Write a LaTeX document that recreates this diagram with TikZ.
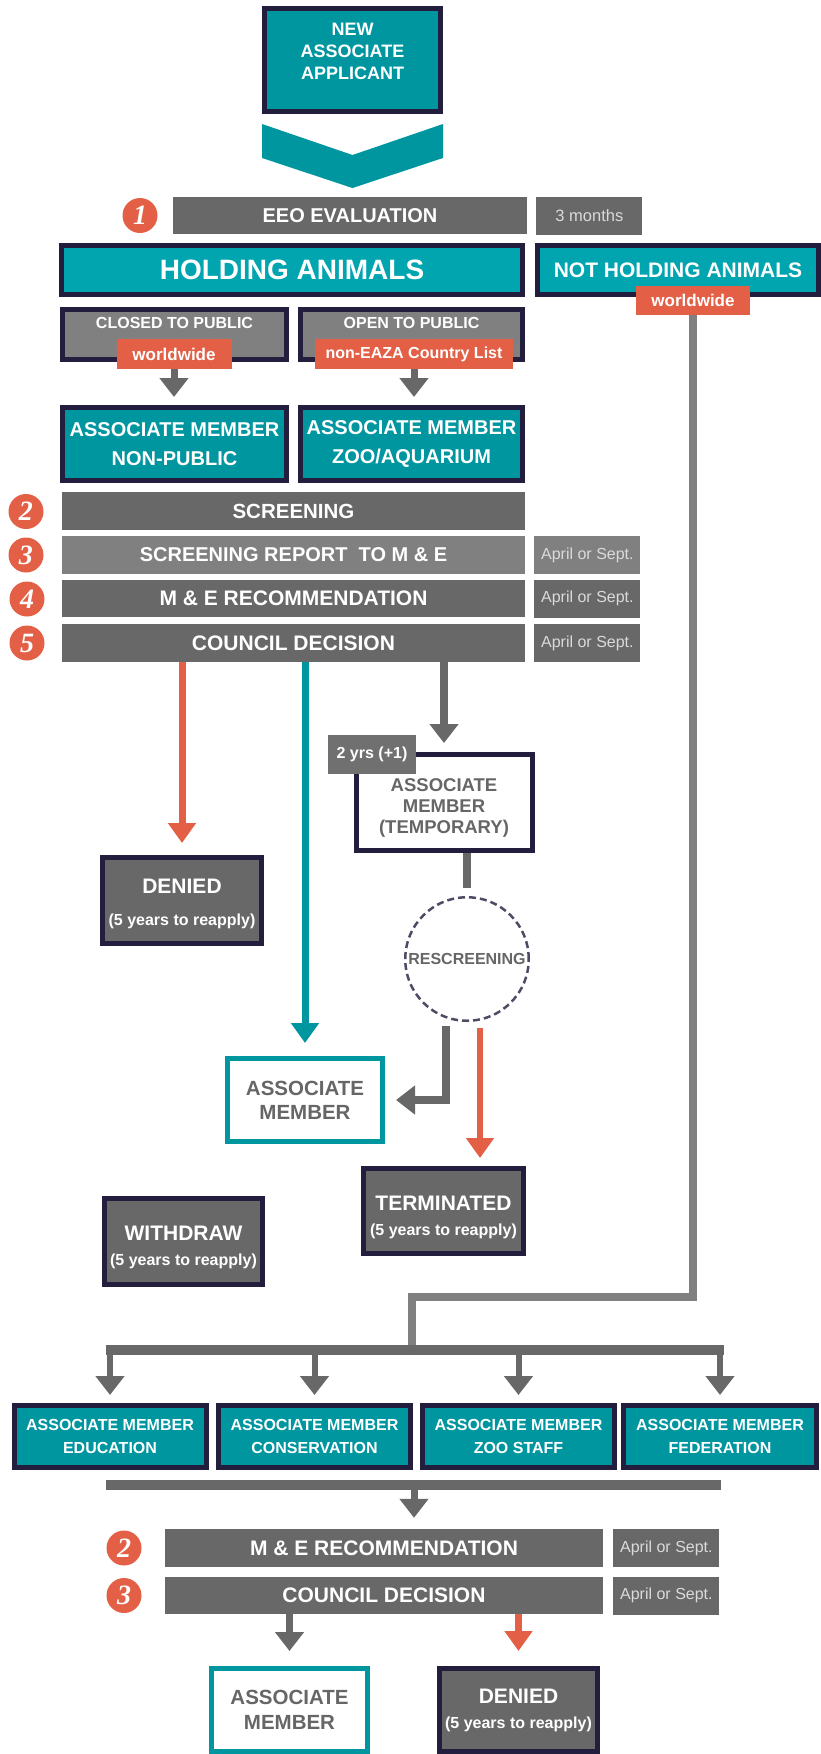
\documentclass[tikz,border=0pt]{standalone}
\usepackage{fontspec}
\setmainfont{Liberation Sans}
\newfontfamily\numfont{Liberation Serif}
\usetikzlibrary{arrows.meta,positioning}
\definecolor{tealA}{HTML}{0096A0}
\definecolor{tealB}{HTML}{00A5AF}
\definecolor{navy}{HTML}{231E3E}
\definecolor{dgray}{HTML}{686868}
\definecolor{mgray}{HTML}{808080}
\definecolor{orangeR}{HTML}{E35F45}
\definecolor{softtext}{HTML}{DADADA}
\definecolor{greytext}{HTML}{666666}

\begin{document}
\begin{tikzpicture}[x=1pt,y=-1pt]
        \tikzstyle{tealbox}=[draw=navy, line width=5pt, fill=tealA, text=white, inner sep=0pt, align=center]
        \tikzstyle{graybox}=[fill=dgray, text=white, inner sep=0pt, align=center, font=\bfseries\fontsize{21}{25}\selectfont]
        \tikzstyle{lgraybox}=[draw=navy, line width=5pt, fill=mgray, inner sep=0pt]
        \tikzstyle{darkbox}=[draw=navy, line width=5pt, fill=dgray, text=white, inner sep=0pt, align=center]
        \tikzstyle{whitebox}=[line width=5pt, fill=white, text=greytext, inner sep=0pt, align=center]
        \tikzstyle{tagbox}=[fill=orangeR, text=white, inner sep=0pt, font=\bfseries\fontsize{17}{17}\selectfont]
        \tikzstyle{datebox}=[fill=dgray, text=softtext, inner sep=0pt, minimum width=106pt, minimum height=38pt, font=\fontsize{16}{16}\selectfont]
        \tikzstyle{num}=[circle, fill=orangeR, minimum size=35pt, inner sep=0pt, text=white, font=\numfont\bfseries\itshape\fontsize{28}{28}\selectfont]
        \tikzstyle{ring}=[circle, draw=navy!80, line width=2.5pt, dash pattern=on 7pt off 4pt, fill=white, inner sep=0pt, text=greytext, font=\bfseries\fontsize{16}{16}\selectfont]
        \tikzstyle{lbl}=[text=white, align=center, inner sep=0pt]
        \tikzstyle{garrow}=[draw=dgray, line width=7pt, -{Triangle[width=28pt,length=19pt]}]
        \tikzstyle{oarrow}=[draw=orangeR, line width=7pt, -{Triangle[width=27pt,length=20pt]}]
        \tikzstyle{tarrow}=[draw=tealA, line width=7pt, -{Triangle[width=27pt,length=20pt]}]
        \tikzstyle{stub}=[draw=dgray, line width=8pt]
        \tikzstyle{feed}=[draw=mgray, line width=8pt]
        \tikzstyle{rail}=[draw=dgray, line width=10pt]
        \useasboundingbox (0,0) rectangle (821,1754);

        \node[tealbox, minimum width=176pt, minimum height=103pt,
              label={[lbl, font=\bfseries\fontsize{18}{22}\selectfont, yshift=9pt]center:NEW\\ASSOCIATE\\APPLICANT}] (new) at (352.5,60) {};
        \fill[tealA] (262,124) -- (352.5,155) -- (443,124) -- (443,158) -- (352.5,188) -- (262,158) -- cycle;

        \node[num] (n1) at (140,215.5) {1};
        \node[graybox, minimum width=354pt, minimum height=37pt, font=\bfseries\fontsize{20}{20}\selectfont] (eeo) at (350,215.5) {EEO EVALUATION};
        \node[datebox, right=9pt of eeo, font=\fontsize{16.5}{16.5}\selectfont] (months) {3 months};

        \node[tealbox, fill=tealB, minimum width=461pt, minimum height=49pt, font=\bfseries\fontsize{28}{28}\selectfont] (holding) at (292,270) {HOLDING ANIMALS};
        \node[tealbox, fill=tealB, minimum width=281pt, minimum height=49pt, font=\bfseries\fontsize{21}{21}\selectfont] (notholding) at (678,270) {NOT HOLDING ANIMALS};
        \node[tagbox, minimum width=114pt, minimum height=29pt] (ww) at (693,300.5) {worldwide};

        \node[lgraybox, minimum width=224pt, minimum height=50pt,
              label={[lbl, font=\bfseries\fontsize{16}{16}\selectfont, yshift=11.5pt]center:CLOSED TO PUBLIC}] (closed) at (174.5,334.5) {};
        \node[tagbox, minimum width=115pt, minimum height=30pt] (closedtag) at (174,354) {worldwide};
        \node[lgraybox, minimum width=222pt, minimum height=50pt,
              label={[lbl, font=\bfseries\fontsize{16}{16}\selectfont, yshift=11.5pt]center:OPEN TO PUBLIC}] (open) at (411.5,334.5) {};
        \node[tagbox, minimum width=198pt, minimum height=30pt, font=\bfseries\fontsize{16}{16}\selectfont] (opentag) at (414,354) {non-EAZA Country List};

        \node[tealbox, minimum width=224pt, minimum height=73pt, font=\bfseries\fontsize{20}{29}\selectfont] (nonpublic) at (174.5,444) {ASSOCIATE MEMBER\\NON-PUBLIC};
        \node[tealbox, minimum width=222pt, minimum height=73pt, font=\bfseries\fontsize{20}{29}\selectfont] (zooaq) at (411.5,444) {ASSOCIATE MEMBER\\ZOO/AQUARIUM};

        \node[num] (n2) at (26,511.5) {2};
        \node[graybox, minimum width=463pt, minimum height=38pt, font=\bfseries\fontsize{20.5}{20.5}\selectfont] (screening) at (293.5,511) {SCREENING};
        \node[num] (n3) at (26,555) {3};
        \node[graybox, fill=mgray, minimum width=463pt, minimum height=38pt, font=\bfseries\fontsize{20}{20}\selectfont] (report) at (293.5,555) {SCREENING REPORT\ \ TO M \& E};
        \node[datebox, fill=mgray, right=9pt of report] (date1) {April or Sept.};
        \node[num] (n4) at (27,599) {4};
        \node[graybox, minimum width=463pt, minimum height=37pt] (mer) at (293.5,598.5) {M \& E RECOMMENDATION};
        \node[datebox, right=9pt of mer] (date2) {April or Sept.};
        \node[num] (n5) at (27,643) {5};
        \node[graybox, minimum width=463pt, minimum height=38pt] (council) at (293.5,643) {COUNCIL DECISION};
        \node[datebox, right=9pt of council] (date3) {April or Sept.};

        \node[darkbox, minimum width=159pt, minimum height=86pt,
              label={[lbl, font=\bfseries\fontsize{16}{32}\selectfont, yshift=-3pt]center:{{\fontsize{21}{21}\selectfont DENIED}\\(5 years to reapply)}}] (denied) at (182,900.5) {};
        \node[whitebox, draw=navy, minimum width=176pt, minimum height=96pt,
              label={[lbl, text=greytext, font=\bfseries\fontsize{18.5}{21}\selectfont, yshift=-5pt]center:ASSOCIATE\\MEMBER\\(TEMPORARY)}] (temp) at (444,802.5) {};
        \node[graybox, fill=dgray!95!white, minimum width=88pt, minimum height=39pt, font=\bfseries\fontsize{16}{16}\selectfont] (twoyrs) at (372,754.5) {2 yrs (+1)};
        \node[ring, minimum size=123.5pt] (rescreen) at (467,959) {RESCREENING};
        \node[whitebox, draw=tealA, minimum width=155pt, minimum height=83pt, font=\bfseries\fontsize{20.5}{24}\selectfont] (assoc) at (305,1100) {ASSOCIATE\\MEMBER};
        \node[darkbox, minimum width=160pt, minimum height=85pt,
              label={[lbl, font=\bfseries\fontsize{16}{25}\selectfont, yshift=-6pt]center:{{\fontsize{21}{21}\selectfont TERMINATED}\\(5 years to reapply)}}] (term) at (443.5,1211) {};
        \node[darkbox, minimum width=158pt, minimum height=86pt,
              label={[lbl, font=\bfseries\fontsize{16}{25}\selectfont, yshift=-5.5pt]center:{{\fontsize{21}{21}\selectfont WITHDRAW}\\(5 years to reapply)}}] (withdraw) at (183.5,1241.5) {};

        \node[tealbox, minimum width=192pt, minimum height=62pt, font=\bfseries\fontsize{16}{23}\selectfont] (edu) at (110,1436.5) {ASSOCIATE MEMBER\\EDUCATION};
        \node[tealbox, minimum width=192pt, minimum height=62pt, font=\bfseries\fontsize{16}{23}\selectfont] (cons) at (314.5,1436.5) {ASSOCIATE MEMBER\\CONSERVATION};
        \node[tealbox, minimum width=192pt, minimum height=62pt, font=\bfseries\fontsize{16}{23}\selectfont] (zoo) at (518.5,1436.5) {ASSOCIATE MEMBER\\ZOO STAFF};
        \node[tealbox, minimum width=193pt, minimum height=62pt, font=\bfseries\fontsize{16}{23}\selectfont] (fed) at (720,1436.5) {ASSOCIATE MEMBER\\FEDERATION};

        \node[num] (m2) at (124,1548) {2};
        \node[graybox, minimum width=438pt, minimum height=38pt] (mer2) at (384,1548) {M \& E RECOMMENDATION};
        \node[datebox, right=10pt of mer2] (date4) {April or Sept.};
        \node[num] (m3) at (124,1595.5) {3};
        \node[graybox, minimum width=438pt, minimum height=37pt] (council2) at (384,1595.5) {COUNCIL DECISION};
        \node[datebox, right=10pt of council2] (date5) {April or Sept.};
        \node[whitebox, draw=tealA, minimum width=156pt, minimum height=83pt, font=\bfseries\fontsize{20.5}{25}\selectfont] (assoc2) at (289.5,1710) {ASSOCIATE\\MEMBER};
        \node[darkbox, minimum width=158pt, minimum height=83pt, font=\bfseries\fontsize{16}{25}\selectfont] (denied2) at (518.5,1710) {{\fontsize{21}{21}\selectfont DENIED}\\(5 years to reapply)};

        \coordinate (turn) at (412,1297);
        \coordinate (railL) at (106,1350);
        \coordinate (railR) at (724,1350);
        \coordinate (rail2L) at (106,1485);
        \coordinate (rail2R) at (721,1485);
        \coordinate (rail2M) at (414,1485);
        \coordinate (rsL) at ([xshift=-21pt]rescreen.south);
        \coordinate (rsR) at ([xshift=13pt]rescreen.south);

        \path (closedtag.south) edge [garrow, shorten >=8pt] (closedtag.south |- nonpublic.north)
        (opentag.south) edge [garrow, shorten >=8pt] (opentag.south |- zooaq.north)
        (council.south -| denied) edge [oarrow, shorten >=12pt] (denied.north)
        (council.south -| assoc) edge [tarrow, shorten >=13pt] (assoc.north)
        (council.south -| temp) edge [garrow, line width=8pt, shorten >=9pt] (temp.north)
        (temp.south -| rescreen) edge [stub, shorten >=8pt] (rescreen.north)
        (rsR) edge [oarrow, line width=6pt, shorten <=6pt, shorten >=8pt] (rsR |- term.north);
        \draw[garrow, line width=8pt, shorten <=4pt, shorten >=11pt] (rsL) |- (assoc.east);

        \draw[feed] (ww.south) |- (turn) -- (turn |- railL);
        \draw[rail] (railL) -- (railR);
        \path (edu |- railL) edge [garrow, line width=6pt, shorten >=8pt] (edu.north)
        (cons |- railL) edge [garrow, line width=6pt, shorten >=8pt] (cons.north)
        (zoo |- railL) edge [garrow, line width=6pt, shorten >=8pt] (zoo.north)
        (fed |- railL) edge [garrow, line width=6pt, shorten >=8pt] (fed.north);
        \draw[rail] (rail2L) -- (rail2R);
        \path (rail2M) edge [garrow, shorten >=11pt] (rail2M |- mer2.north)
        (council2.south -| assoc2) edge [garrow, shorten >=15pt] (assoc2.north)
        (council2.south -| denied2) edge [oarrow, shorten >=15pt] (denied2.north);
\end{tikzpicture}
\end{document}
